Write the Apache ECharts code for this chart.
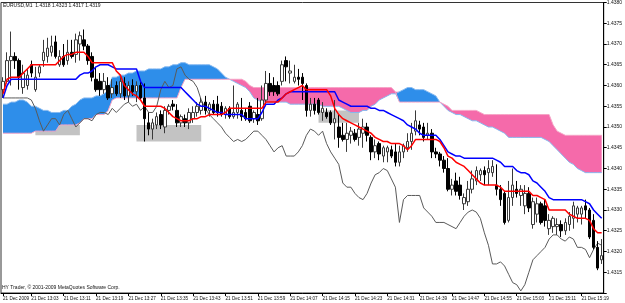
<!DOCTYPE html>
<html><head><meta charset="utf-8">
<script src="https://cdn.jsdelivr.net/npm/echarts/dist/echarts.min.js"></script>
<style>html,body{margin:0;padding:0;background:#fff}#c{width:625px;height:303px}</style>
</head><body><div id="c"></div>
<script>
const times = ['12:56','12:57','12:58','12:59',
'13:00','13:01','13:02','13:03','13:04','13:05','13:06','13:07','13:08','13:09','13:10','13:11','13:12','13:13','13:14','13:15','13:16','13:17','13:18','13:19','13:20','13:21','13:22','13:23','13:24','13:25','13:26','13:27','13:28','13:29','13:30','13:31','13:32','13:33','13:34','13:35','13:36','13:37','13:38','13:39','13:40','13:41','13:42','13:43','13:44','13:45','13:46','13:47','13:48','13:49','13:50','13:51','13:52','13:53','13:54','13:55','13:56','13:57','13:58','13:59',
'14:00','14:01','14:02','14:03','14:04','14:05','14:06','14:07','14:08','14:09','14:10','14:11','14:12','14:13','14:14','14:15','14:16','14:17','14:18','14:19','14:20','14:21','14:22','14:23','14:24','14:25','14:26','14:27','14:28','14:29','14:30','14:31','14:32','14:33','14:34','14:35','14:36','14:37','14:38','14:39','14:40','14:41','14:42','14:43','14:44','14:45','14:46','14:47','14:48','14:49','14:50','14:51','14:52','14:53','14:54','14:55','14:56','14:57','14:58','14:59',
'15:00','15:01','15:02','15:03','15:04','15:05','15:06','15:07','15:08','15:09','15:10','15:11','15:12','15:13','15:14','15:15','15:16','15:17','15:18','15:19','15:20','15:21','15:22','15:23','15:24'];

const opens = [1.4359,1.4361,1.4366,1.4367,1.4366,1.43595,1.4360,1.4365,1.4359,1.4363,
1.4366,1.4367,1.4368,1.43705,1.4365,1.4367,1.4366,1.4368,1.43675,1.4370,
1.4371,1.43695,1.4367,1.43615,1.4361,1.4359,1.4360,1.4358,1.4360,1.4358,
1.43605,1.43575,1.4360,1.43585,1.4360,1.4357,1.4351,1.43495,1.43505,1.4353,
1.4350,1.4354,1.43555,1.4354,1.4351,1.4352,1.4351,1.4352,1.43535,1.4354,
1.4356,1.4354,1.43555,1.43555,1.4355,1.4353,1.43545,1.43525,1.43535,1.4354,
1.43535,1.4355,1.4352,1.4353,1.4352,1.43565,1.43605,1.4360,1.4360,1.4361,
1.4366,1.4363,1.4361,1.4362,1.4362,1.4360,1.4354,1.43555,1.43565,1.43535,
1.43535,1.43535,1.4351,1.4350,1.4348,1.4347,1.4348,1.43485,1.43475,1.43485,
1.4350,1.43475,1.4344,1.4346,1.4343,1.4344,1.43445,1.4344,1.43415,1.4344,
1.4345,1.43465,1.4349,1.43505,1.4350,1.4348,1.43485,1.4344,1.43435,1.4342,
1.4340,1.4335,1.4337,1.4336,1.43315,1.4332,1.4335,1.4337,1.43385,1.43395,
1.4339,1.4339,1.4336,1.4335,1.4334,1.43275,1.4333,1.4335,1.43335,1.4331,
1.4334,1.43265,1.4329,1.43315,1.4331,1.43255,1.4326,1.4326,1.43265,1.4325,
1.43265,1.4328,1.4329,1.4329,1.4331,1.4330,1.43275,1.4321,1.4318];

const highs = [1.4362,1.4368,1.4373,1.4368,1.43665,1.4365,1.4364,1.4366,1.43645,1.4365,
1.4371,1.43715,1.4372,1.4372,1.43685,1.4370,1.4371,1.4371,1.43725,1.4373,
1.43735,1.4370,1.4368,1.43645,1.4363,1.4363,1.4362,1.43615,1.4361,1.4362,
1.4362,1.4361,1.43615,1.4361,1.4361,1.43605,1.43535,1.4352,1.43535,1.4354,
1.4355,1.43555,1.43565,1.43555,1.4353,1.4353,1.43545,1.4355,1.4356,1.4357,
1.43575,1.4356,1.43565,1.43575,1.4356,1.4355,1.4355,1.4360,1.4356,1.4357,
1.43545,1.4356,1.4354,1.4357,1.4360,1.43635,1.4363,1.4362,1.4361,1.4366,
1.4367,1.4366,1.4365,1.4364,1.4363,1.43605,1.4357,1.4357,1.4357,1.4356,
1.43545,1.4354,1.43565,1.4353,1.4351,1.4351,1.4350,1.43495,1.4351,1.4352,
1.4351,1.4348,1.4347,1.43465,1.43455,1.43455,1.43455,1.4346,1.43455,1.4346,
1.43485,1.4351,1.4354,1.43515,1.4351,1.4351,1.43495,1.4345,1.4344,1.4343,
1.43425,1.43375,1.4339,1.4338,1.4334,1.4337,1.43395,1.43405,1.4340,1.43405,
1.4342,1.4342,1.4341,1.4336,1.43345,1.4337,1.4340,1.4337,1.4336,1.4336,
1.43355,1.4333,1.4333,1.4332,1.43325,1.4329,1.43285,1.4328,1.43275,1.4328,
1.43295,1.4332,1.4331,1.4331,1.43325,1.43305,1.4329,1.43225,1.4323];

const lows = [1.4357,1.43605,1.4360,1.4364,1.4359,1.4358,1.4359,1.4362,1.43585,1.4362,
1.43645,1.43655,1.4367,1.43665,1.43645,1.43645,1.4365,1.43665,1.43655,1.4366,
1.43685,1.4365,1.4361,1.43585,1.43575,1.4358,1.43565,1.4357,1.43575,1.4357,
1.43565,1.4356,1.43575,1.4356,1.43565,1.43465,1.4348,1.4347,1.43495,1.43495,
1.43485,1.4353,1.4354,1.4350,1.4350,1.4350,1.43495,1.4351,1.43525,1.4353,
1.4353,1.43525,1.4353,1.43525,1.43525,1.4352,1.4352,1.4352,1.4352,1.43515,
1.43515,1.4351,1.4351,1.43505,1.43515,1.4355,1.43575,1.43575,1.43575,1.4360,
1.4361,1.43605,1.43605,1.4360,1.43565,1.43525,1.43525,1.4353,1.4353,1.43515,
1.4352,1.43505,1.4347,1.4345,1.43465,1.4344,1.4346,1.43465,1.43455,1.4345,
1.43465,1.4342,1.43425,1.4342,1.43415,1.43415,1.43425,1.43405,1.43405,1.43425,
1.4344,1.43445,1.4348,1.4348,1.43465,1.4347,1.43425,1.43425,1.43405,1.4339,
1.43345,1.43335,1.43335,1.43325,1.4330,1.4331,1.4334,1.4336,1.4337,1.4336,
1.4336,1.4338,1.43335,1.4331,1.43265,1.4327,1.4331,1.4333,1.4331,1.4329,
1.43295,1.43255,1.4327,1.43265,1.4326,1.4324,1.43245,1.4324,1.43235,1.4324,
1.4325,1.43255,1.4327,1.43265,1.4328,1.4323,1.43205,1.43155,1.4317];

const closes = [1.4361,1.4366,1.4367,1.4366,1.4362,1.4363,1.43625,1.4363,1.4362,1.43645,
1.4368,1.4369,1.43695,1.4367,1.4367,1.4365,1.4368,1.4367,1.4371,1.4372,
1.43695,1.4366,1.4362,1.4359,1.4359,1.4361,1.4357,1.43595,1.4358,1.4361,
1.43575,1.4360,1.43585,1.4360,1.4357,1.4352,1.43495,1.4351,1.43525,1.43505,
1.4354,1.4355,1.4355,1.4351,1.43525,1.4351,1.43535,1.43535,1.4355,1.4356,
1.4354,1.43555,1.43535,1.43535,1.4353,1.43545,1.43525,1.43535,1.43555,1.43525,
1.4352,1.43515,1.43535,1.43515,1.43565,1.43605,1.43585,1.43585,1.4358,1.4365,
1.43645,1.43635,1.4362,1.43615,1.43605,1.4354,1.43555,1.4354,1.43535,1.43545,
1.43525,1.4351,1.4352,1.43475,1.4347,1.43485,1.4349,1.4347,1.43495,1.4350,
1.4348,1.4344,1.43455,1.43435,1.4345,1.4345,1.4343,1.43415,1.4344,1.43455,
1.43465,1.43485,1.43515,1.43495,1.43475,1.43485,1.4344,1.43435,1.4342,1.4340,
1.4335,1.4336,1.43345,1.43335,1.4333,1.4335,1.43375,1.43395,1.43395,1.43385,
1.4340,1.43405,1.4335,1.43325,1.4327,1.4333,1.4336,1.4334,1.4335,1.4334,
1.43305,1.4332,1.43315,1.4327,1.43275,1.43275,1.4328,1.43265,1.4325,1.4327,
1.43285,1.4331,1.43305,1.43305,1.4330,1.43235,1.4321,1.4316,1.4319];

const tenkan = [1.4358,1.43615,1.4362,1.4362,1.4362,1.4363,1.4364,1.4365,1.4365,1.4365,
1.4365,1.4365,1.4365,1.4365,1.4366,1.4367,1.43675,1.43675,1.4368,1.4368,
1.4368,1.4367,1.43655,1.43655,1.43655,1.43655,1.43655,1.43655,1.43635,1.43625,
1.4360,1.4359,1.4358,1.43575,1.43565,1.4355,1.4355,1.4355,1.4355,1.4355,
1.43545,1.43535,1.43525,1.4352,1.43515,1.43515,1.43515,1.4352,1.4352,1.43525,
1.43525,1.4353,1.4353,1.4353,1.4353,1.43535,1.43545,1.43545,1.43545,1.43545,
1.43545,1.43545,1.43545,1.43545,1.43545,1.4356,1.4356,1.4356,1.4356,1.4357,
1.4358,1.43585,1.4359,1.43595,1.4360,1.4359,1.4359,1.4359,1.4359,1.4359,
1.4359,1.43575,1.43545,1.4353,1.4352,1.43515,1.4351,1.43505,1.4350,1.43495,
1.4349,1.43485,1.43475,1.4347,1.43465,1.43465,1.4346,1.4346,1.4346,1.43455,
1.43445,1.43455,1.4347,1.4347,1.4347,1.4347,1.4347,1.4347,1.43465,1.4345,
1.4343,1.43425,1.43415,1.4341,1.43405,1.43395,1.43385,1.43375,1.43365,1.4336,
1.4336,1.4336,1.4336,1.43355,1.43345,1.43345,1.43345,1.43345,1.43345,1.43345,
1.43345,1.43335,1.43335,1.4333,1.43325,1.4330,1.4330,1.4330,1.4330,1.4330,
1.4329,1.43285,1.4328,1.4328,1.4328,1.43275,1.43255,1.43245,1.43245];

const kijun = [1.4357,1.4360,1.43615,1.43615,1.43615,1.43615,1.43615,1.43615,1.43615,1.43615,
1.43615,1.43615,1.43615,1.43615,1.43615,1.43615,1.43615,1.43615,1.43615,1.43625,
1.4363,1.4363,1.43635,1.43645,1.4365,1.4365,1.4365,1.43645,1.4364,1.4364,
1.4364,1.4364,1.4364,1.4364,1.4361,1.43595,1.43595,1.43595,1.43595,1.43595,
1.43595,1.43595,1.43595,1.43595,1.43595,1.43585,1.43575,1.43565,1.43555,1.4355,
1.4355,1.43545,1.4354,1.43535,1.43535,1.4353,1.4353,1.4353,1.4353,1.4353,
1.4352,1.4352,1.4352,1.4352,1.43535,1.43555,1.43555,1.43555,1.43565,1.4357,
1.4358,1.43585,1.43585,1.43585,1.43585,1.43585,1.43585,1.43585,1.43585,1.43585,
1.43585,1.43585,1.43585,1.43565,1.4356,1.43555,1.4355,1.4355,1.4355,1.4355,
1.4355,1.43545,1.43545,1.4354,1.4354,1.43535,1.4353,1.43525,1.4352,1.43515,
1.43505,1.4350,1.43495,1.43485,1.4348,1.4348,1.4348,1.4348,1.4347,1.43455,
1.4344,1.43435,1.4343,1.4343,1.43425,1.43425,1.43425,1.43425,1.43425,1.43425,
1.43425,1.43425,1.4342,1.43415,1.43405,1.43405,1.43405,1.43395,1.4339,1.4339,
1.43385,1.4337,1.43365,1.43355,1.43345,1.4333,1.43325,1.43325,1.43325,1.43325,
1.43325,1.43325,1.43325,1.43325,1.4332,1.43315,1.4330,1.4329,1.4328];

const spanA = [1.43555,1.43555,1.4356,1.4356,1.43565,1.43565,1.4356,1.4355,1.4355,1.43545,
1.4354,1.4354,1.43535,1.43535,1.43535,1.4354,1.4354,1.4355,1.43555,1.43565,
1.4357,1.4357,1.4357,1.43575,1.43575,1.4358,1.4359,1.4362,1.4362,1.43625,
1.43625,1.4363,1.4363,1.43635,1.43635,1.43635,1.4364,1.4364,1.4364,1.4364,
1.43645,1.43645,1.4365,1.4365,1.43655,1.43655,1.4365,1.4365,1.4365,1.4365,
1.4365,1.4365,1.43645,1.4364,1.4363,1.4362,1.43615,1.4361,1.43605,1.4360,
1.43595,1.43585,1.4357,1.43565,1.4356,1.4356,1.4356,1.4356,1.4356,1.4356,
1.4356,1.43555,1.43555,1.43555,1.43555,1.43555,1.43555,1.43555,1.43555,1.4355,
1.4355,1.4355,1.4355,1.4355,1.43545,1.4354,1.43535,1.43535,1.43535,1.4354,
1.4354,1.4355,1.43555,1.43565,1.4357,1.43575,1.4358,1.4358,1.43585,1.4359,
1.43595,1.43595,1.4359,1.4359,1.4359,1.43585,1.4358,1.43575,1.4356,1.4355,
1.4354,1.43535,1.4353,1.4353,1.43525,1.4352,1.43515,1.43515,1.4351,1.43505,
1.4350,1.4350,1.43495,1.4349,1.43485,1.43475,1.43475,1.43475,1.43475,1.43475,
1.43475,1.43475,1.43475,1.43475,1.4347,1.43465,1.43455,1.43445,1.43435,1.43425,
1.43415,1.4341,1.4340,1.43395,1.4339,1.4339,1.4339,1.4339,1.4339];

const spanB = [1.43485,1.43485,1.43485,1.43485,1.43485,1.43485,1.43485,1.43485,1.4349,1.4349,
1.4349,1.4349,1.4349,1.4349,1.43505,1.43505,1.43505,1.43505,1.43505,1.4351,
1.4352,1.4352,1.4352,1.4353,1.4353,1.4353,1.4354,1.43565,1.4357,1.4357,
1.4357,1.4357,1.4357,1.4357,1.4357,1.4357,1.4357,1.4357,1.4357,1.4357,
1.4357,1.4357,1.4357,1.4357,1.43595,1.43615,1.43615,1.43615,1.43615,1.43615,
1.43615,1.43615,1.43615,1.43615,1.43615,1.43615,1.43615,1.43615,1.43615,1.43615,
1.4361,1.4360,1.43595,1.43595,1.43595,1.43595,1.43595,1.43595,1.43595,1.43595,
1.43595,1.43595,1.43595,1.43595,1.43595,1.43595,1.43595,1.43595,1.43595,1.43595,
1.43595,1.43595,1.43595,1.43595,1.43595,1.43595,1.43595,1.43595,1.43595,1.43595,
1.43595,1.43595,1.43595,1.43595,1.43595,1.43595,1.43595,1.43585,1.4356,1.4356,
1.4356,1.4356,1.4356,1.4356,1.4356,1.4356,1.4356,1.4356,1.4356,1.43555,
1.4355,1.4354,1.4354,1.4354,1.4354,1.4354,1.4354,1.4354,1.43535,1.4353,
1.4353,1.4353,1.4353,1.4353,1.4353,1.4353,1.4353,1.4353,1.4353,1.4353,
1.4353,1.4353,1.4353,1.4353,1.4353,1.4353,1.43505,1.4349,1.43485,1.4348,
1.4348,1.4348,1.4348,1.4348,1.4348,1.4348,1.4348,1.4348,1.4348];

const chikou = [1.4357,1.4357,1.4357,1.4357,1.4357,1.4357,1.4357,1.43565,1.43545,1.43515,
1.4349,1.43505,1.4352,1.4352,1.43505,1.4353,1.4354,1.4352,1.4350,1.4351,
1.4352,1.4352,1.43515,1.4353,1.43535,1.43535,1.4353,1.43545,1.43535,1.43545,
1.43555,1.4356,1.4355,1.43555,1.4354,1.4355,1.43535,1.43535,1.4355,1.4359,
1.4361,1.43595,1.4360,1.4364,1.43645,1.43625,1.43615,1.4361,1.43595,1.43565,
1.43545,1.4353,1.4352,1.4351,1.4350,1.43485,1.43475,1.43465,1.4347,1.43465,
1.4347,1.4348,1.4349,1.4349,1.4348,1.4347,1.43455,1.4344,1.4345,1.43455,
1.4343,1.4343,1.4343,1.4344,1.43455,1.4348,1.43495,1.4349,1.4348,1.4349,
1.4346,1.4344,1.43425,1.4341,1.43365,1.43355,1.43355,1.4334,1.4333,1.43325,
1.4334,1.43365,1.43385,1.4339,1.4340,1.43395,1.43375,1.43355,1.4327,1.43325,
1.43335,1.43335,1.43335,1.43335,1.43305,1.43295,1.43285,1.4327,1.4327,1.4327,
1.43265,1.4326,1.43255,1.4327,1.43285,1.43295,1.4330,1.43295,1.4328,1.43245,
1.43215,1.4317,1.4317,1.43175,1.43165,1.43145,1.43125,1.4312,1.43105,1.4312,
1.4315,1.4318,1.4319,1.4320,1.4321,1.4323,1.4324,1.4324,1.4323,1.43225,
1.43235,1.4323,1.4321,1.4321,1.43205,1.43185,1.43205,1.4322,1.43215];

// drawn rectangles: [first bar, last bar, upper price, lower price]
const rects = [[8, 19, 1.43505, 1.4348], [33, 49, 1.43505, 1.43465], [78, 88, 1.4354, 1.4351]];
const bidPrice = 1.4319;
const yTicks = { min: 1.4310, max: 1.4380, step: 0.0005 };
const dateLabel = '21 Dec 2009';
const dayPrefix = '21 Dec ';
const titleText = 'EURUSD,M1  1.4318 1.4323 1.4317 1.4319';
const footerText = 'HY Trader, \u00a9 2001-2009 MetaQuotes Software Corp.';

const ohlc = opens.map((o, i) => [o, closes[i], lows[i], highs[i]]);
const cloudBase = spanA.map((a, i) => Math.min(a, spanB[i]));
const cloudBlue = spanA.map((a, i) => a > spanB[i] ? +(a - spanB[i]).toFixed(5) : 0);
const cloudPink = spanA.map((a, i) => spanB[i] > a ? +(spanB[i] - a).toFixed(5) : 0);

const FONT = 'Liberation Sans';
const showTick = (idx) => idx === 0 || (idx - 7) % 8 === 0;

const chart = echarts.init(document.getElementById('c'), null, { renderer: 'canvas' });
chart.setOption({
  animation: false,
  backgroundColor: '#ffffff',
  grid: { left: 1, right: 20, top: 2, bottom: 10, show: true, borderColor: '#333', borderWidth: 1, backgroundColor: '#fff' },
  xAxis: {
    type: 'category', data: times, boundaryGap: true,
    axisLine: { show: true, lineStyle: { color: '#000', width: 1 } },
    axisTick: { show: true, alignWithLabel: true, interval: showTick, length: 3, lineStyle: { color: '#000' } },
    axisLabel: { show: true, interval: showTick, align: 'left', margin: 3, fontSize: 4.6, fontFamily: FONT, color: '#111',
      formatter: (v, idx) => idx === 0 ? dateLabel : dayPrefix + v },
    splitLine: { show: false }
  },
  yAxis: {
    type: 'value', position: 'right', min: yTicks.min, max: yTicks.max, interval: yTicks.step, scale: true,
    axisLine: { show: true, lineStyle: { color: '#000', width: 1 } },
    axisTick: { show: true, length: 3, lineStyle: { color: '#000' } },
    axisLabel: { show: true, margin: 3, fontSize: 5, fontFamily: FONT, color: '#111',
      formatter: (v) => Math.abs(v - yTicks.min) < 1e-7 ? '' : v.toFixed(4) },
    splitLine: { show: false }
  },
  series: [
    { type: 'line', name: 'rects', data: [], z: 1, silent: true,
      markArea: { silent: true, itemStyle: { color: '#c3c3c3', opacity: 1 },
        data: rects.map(r => [{ xAxis: times[r[0]], yAxis: r[2] }, { xAxis: times[r[1]], yAxis: r[3] }]) } },
    { type: 'line', name: 'cloudBase', data: cloudBase, stack: 'cloud', symbol: 'none', silent: true, z: 2,
      lineStyle: { opacity: 0 } },
    { type: 'line', name: 'cloudBlue', data: cloudBlue, stack: 'cloud', symbol: 'none', silent: true, z: 2,
      lineStyle: { opacity: 0 }, areaStyle: { color: '#2e8eea', opacity: 1 } },
    { type: 'line', name: 'cloudPink', data: cloudPink, stack: 'cloud', symbol: 'none', silent: true, z: 2,
      lineStyle: { opacity: 0 }, areaStyle: { color: '#f56aaa', opacity: 1 } },
    { type: 'line', name: 'spanA', data: spanA, symbol: 'none', silent: true, z: 3,
      lineStyle: { color: '#86b9f0', width: 1 } },
    { type: 'line', name: 'spanB', data: spanB, symbol: 'none', silent: true, z: 3,
      lineStyle: { color: '#f6a4c6', width: 1 } },
    { type: 'line', name: 'chikou', data: chikou, symbol: 'none', silent: true, z: 4,
      lineStyle: { color: '#5a5a5a', width: 1 } },
    { type: 'candlestick', name: 'EURUSD', data: ohlc, barWidth: 3, z: 5, silent: true,
      itemStyle: { color: '#ffffff', color0: '#000000', borderColor: '#3a3a3a', borderColor0: '#000000', borderWidth: 1 },
      markLine: { silent: true, symbol: 'none', z: 3,
        lineStyle: { color: '#b9c6d4', width: 1, type: 'solid' },
        label: { show: true, position: 'end', distance: 2, formatter: bidPrice.toFixed(4), backgroundColor: '#000',
          color: '#fff', fontSize: 5, fontFamily: FONT, padding: [1, 1, 1, 1] },
        data: [{ yAxis: bidPrice }] } },
    { type: 'line', name: 'kijun', data: kijun, symbol: 'none', silent: true, z: 6,
      lineStyle: { color: '#0000ff', width: 1.5 } },
    { type: 'line', name: 'tenkan', data: tenkan, symbol: 'none', silent: true, z: 6,
      lineStyle: { color: '#ff0000', width: 1.5 } }
  ],
  graphic: [
    { type: 'text', left: 3, top: 3, z: 100, style: { text: titleText, fontSize: 5, fontFamily: FONT, fill: '#111' } },
    { type: 'text', left: 2, top: 285, z: 100, style: { text: footerText, fontSize: 5, fontFamily: FONT, fill: '#111' } }
  ]
});
</script></body></html>
